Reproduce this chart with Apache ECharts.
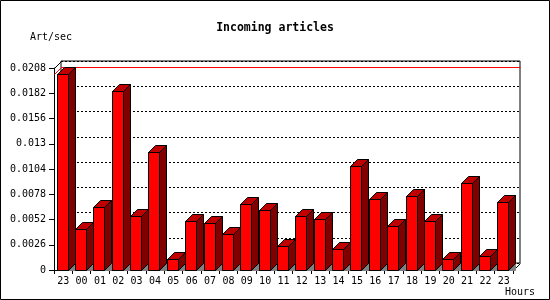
<!DOCTYPE html>
<html>
<head>
<meta charset="utf-8">
<script src="https://cdn.jsdelivr.net/npm/echarts@6/dist/echarts.min.js"></script>
<style>html,body{margin:0;padding:0;background:#fff}#c{width:550px;height:300px}</style>
</head>
<body>
<div id="c"></div>
<script>
const hours = ['23','00','01','02','03','04','05','06','07','08','09','10','11','12','13','14','15','16','17','18','19','20','21','22','23'];
const articlesPerSec = [0.0202, 0.0042, 0.0065, 0.0184, 0.0056, 0.0122, 0.0011, 0.0050, 0.0048, 0.0037, 0.0068, 0.0062, 0.0025, 0.0056, 0.0053, 0.0022, 0.0107, 0.0073, 0.0045, 0.0076, 0.0050, 0.0011, 0.0090, 0.0014, 0.0070];
const yMax = 0.0208;
const yStep = 0.0026;
const titleText = 'Incoming articles';
const yName = 'Art/sec';
const xName = 'Hours';

const FONT = 'DejaVu Sans Mono';
const DEPTH = 7;
const maxVal = Math.max.apply(null, articlesPerSec);
const px = v => Math.round(v) + 0.5;

const chart = echarts.init(document.getElementById('c'), null, {renderer: 'canvas'});

function renderBar(params, api) {
  const idx = api.value(0), v = api.value(1);
  const base = api.coord([idx, 0]);
  const top = api.coord([idx, v]);
  const band = api.size([1, 0])[0];
  const left = px(base[0] - band / 2 + 2.7);
  const w = 11, d = DEPTH;
  const right = left + w;
  const y0 = px(base[1]);
  const y1 = px(top[1]);
  return {
    type: 'group',
    children: [
      {type: 'polygon', shape: {points: [[right, y0], [right + d, y0 - d], [right + d, y0]]}, style: {fill: '#808080', stroke: '#808080', lineWidth: 1}},
      {type: 'polygon', shape: {points: [[right, y1], [right + d, y1 - d], [right + d, y0 - d], [right, y0]]}, style: {fill: '#800000', stroke: '#000', lineWidth: 1}},
      {type: 'polygon', shape: {points: [[left, y1], [left + d, y1 - d], [right + d, y1 - d], [right, y1]]}, style: {fill: '#c00000', stroke: '#000', lineWidth: 1}},
      {type: 'rect', shape: {x: left, y: y1, width: w, height: y0 - y1}, style: {fill: '#ff0000', stroke: '#000', lineWidth: 1}}
    ]
  };
}

function renderFrame(params, api) {
  const cs = params.coordSys;
  const x0 = px(cs.x), yT = px(cs.y), x1 = px(cs.x + cs.width), yB = px(cs.y + cs.height);
  const ym = px(api.coord([0, api.value(1)])[1]);
  const d = DEPTH;
  return {
    type: 'group',
    children: [
      {type: 'line', shape: {x1: x0, y1: yT, x2: x0 + d, y2: yT - d}, style: {stroke: '#000', lineWidth: 1}},
      {type: 'line', shape: {x1: x1, y1: yB, x2: x1 + d, y2: yB - d}, style: {stroke: '#000', lineWidth: 1}},
      {type: 'line', shape: {x1: x0, y1: ym, x2: x0 + d, y2: ym - d}, style: {stroke: '#ff0000', lineWidth: 1}},
      {type: 'line', shape: {x1: x0 + d, y1: ym - d, x2: x1 + d, y2: ym - d}, style: {stroke: '#ff0000', lineWidth: 1}}
    ]
  };
}

const option = {
  animation: false,
  backgroundColor: '#fff',
  title: {
    text: titleText, left: 'center', top: 17,
    textStyle: {fontFamily: FONT, fontWeight: 'bold', fontSize: 11.5, color: '#000'}
  },
  grid: [
    {left: 54, right: 37, top: 68, bottom: 30, containLabel: false},
    {left: 61, right: 30, top: 61, bottom: 37, show: true, borderColor: '#000', borderWidth: 1, backgroundColor: 'transparent'}
  ],
  xAxis: [
    {
      type: 'category', data: hours, gridIndex: 0, boundaryGap: true,
      axisLine: {show: true, lineStyle: {color: '#000', width: 1}},
      axisTick: {show: true, interval: 0, length: 4, lineStyle: {color: '#000'}},
      axisLabel: {interval: 0, margin: 6, color: '#000', fontFamily: FONT, fontSize: 10},
      splitLine: {show: false}
    },
    {
      type: 'category', data: hours, gridIndex: 1, show: false
    }
  ],
  yAxis: [
    {
      type: 'value', gridIndex: 0, min: 0, max: yMax, interval: yStep,
      axisLine: {show: true, lineStyle: {color: '#000', width: 1}},
      axisTick: {show: true, length: 5, lineStyle: {color: '#000'}},
      axisLabel: {margin: 8, color: '#000', fontFamily: FONT, fontSize: 10,
        formatter: v => String(+v.toFixed(4))},
      splitLine: {show: false}
    },
    {
      type: 'value', gridIndex: 1, min: 0, max: yMax, interval: yStep,
      axisLine: {show: false}, axisTick: {show: false}, axisLabel: {show: false},
      splitLine: {show: true, lineStyle: {color: '#000', width: 1, type: [2, 2]}}
    }
  ],
  graphic: [
    {type: 'rect', shape: {x: 0.5, y: 0.5, width: 549, height: 299}, style: {fill: null, stroke: '#000', lineWidth: 1}, z: 100},
    {type: 'text', x: 30, y: 37, style: {text: yName, fontFamily: FONT, fontSize: 10, fill: '#000', verticalAlign: 'middle'}},
    {type: 'text', x: 505, y: 292, style: {text: xName, fontFamily: FONT, fontSize: 10, fill: '#000', verticalAlign: 'middle'}}
  ],
  series: [
    {
      type: 'custom', xAxisIndex: 0, yAxisIndex: 0, z: 1,
      renderItem: renderFrame, data: [[0, maxVal]], silent: true
    },
    {
      type: 'custom', xAxisIndex: 0, yAxisIndex: 0, z: 3,
      renderItem: renderBar,
      encode: {x: 0, y: 1},
      data: articlesPerSec.map((v, i) => [i, v])
    }
  ]
};
chart.setOption(option);
</script>
</body>
</html>
